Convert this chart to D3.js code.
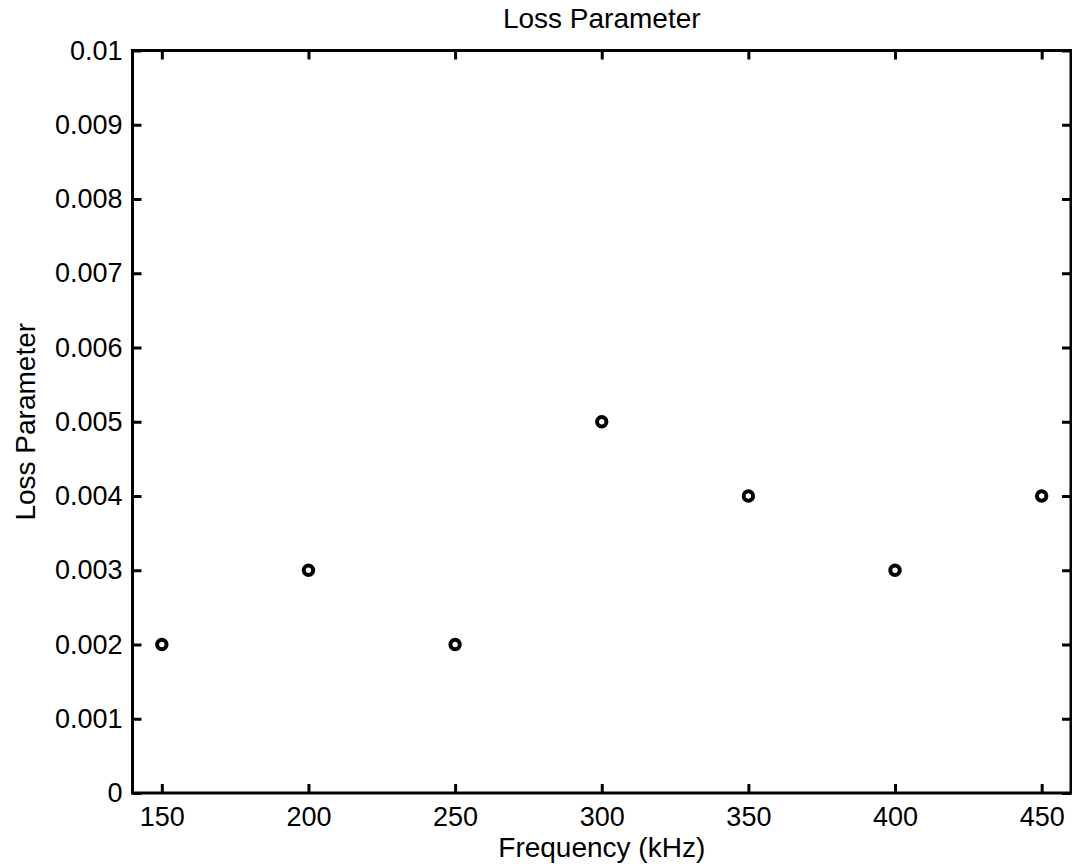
<!DOCTYPE html>
<html>
<head>
<meta charset="utf-8">
<script src="https://cdn.jsdelivr.net/npm/d3@7"></script>
<style>
  body { margin: 0; background: #fff; }
  text { font-family: "Liberation Sans", Arial, sans-serif; fill: #000; }
</style>
</head>
<body>
<div id="chart"></div>
<script>
var frequency = [150, 200, 250, 300, 350, 400, 450];
var lossParam = [0.002, 0.003, 0.002, 0.005, 0.004, 0.003, 0.004];
var xTicks = [150, 200, 250, 300, 350, 400, 450];
var yTicks = [0, 0.001, 0.002, 0.003, 0.004, 0.005, 0.006, 0.007, 0.008, 0.009, 0.01];

var width = 1072, height = 868;
var margin = {top: 50.5, right: 1, bottom: 75, left: 132.5};
var iw = width - margin.left - margin.right,
    ih = height - margin.top - margin.bottom;

var svg = d3.select("#chart").append("svg")
  .attr("width", width)
  .attr("height", height);

var g = svg.append("g").attr("transform", "translate(" + margin.left + "," + margin.top + ")");

var x = d3.scaleLinear().domain([140, 460]).range([0, iw]);
var y = d3.scaleLinear().domain([0, 0.01]).range([ih, 0]);

function fmtY(d) { return d === 0 ? "0" : String(+d.toFixed(3)); }

// axes, ticks point inward
var xb = g.append("g").attr("transform", "translate(0," + ih + ")")
  .call(d3.axisBottom(x).tickValues(xTicks).tickSize(-9).tickPadding(14).tickFormat(d3.format("d")));
var xt = g.append("g")
  .call(d3.axisTop(x).tickValues(xTicks).tickSize(-9).tickFormat(""));
var yl = g.append("g")
  .call(d3.axisLeft(y).tickValues(yTicks).tickSize(-9).tickPadding(10).tickFormat(fmtY));
var yr = g.append("g").attr("transform", "translate(" + iw + ",0)")
  .call(d3.axisRight(y).tickValues(yTicks).tickSize(-9).tickFormat(""));

[xb, xt, yl, yr].forEach(function(a) {
  a.select(".domain").remove();
  a.selectAll(".tick line").attr("stroke", "#000").attr("stroke-width", 3);
  a.selectAll(".tick text").attr("font-size", 27);
});

// frame
g.append("rect")
  .attr("x", 0).attr("y", 0)
  .attr("width", iw).attr("height", ih)
  .attr("fill", "none")
  .attr("stroke", "#000")
  .attr("stroke-width", 3);

// markers
g.selectAll("circle.pt")
  .data(frequency.map(function(f, i) { return {f: f, v: lossParam[i]}; }))
  .enter().append("circle")
  .attr("class", "pt")
  .attr("cx", function(d) { return x(d.f); })
  .attr("cy", function(d) { return y(d.v); })
  .attr("r", 4.7)
  .attr("fill", "none")
  .attr("stroke", "#000")
  .attr("stroke-width", 4);

// labels
svg.append("text")
  .attr("x", margin.left + iw / 2)
  .attr("y", 28)
  .attr("text-anchor", "middle")
  .attr("font-size", 28)
  .text("Loss Parameter");

svg.append("text")
  .attr("x", margin.left + iw / 2)
  .attr("y", 857)
  .attr("text-anchor", "middle")
  .attr("font-size", 28)
  .text("Frequency (kHz)");

svg.append("text")
  .attr("transform", "translate(35," + (margin.top + ih / 2) + ") rotate(-90)")
  .attr("text-anchor", "middle")
  .attr("font-size", 28)
  .text("Loss Parameter");
</script>
</body>
</html>
